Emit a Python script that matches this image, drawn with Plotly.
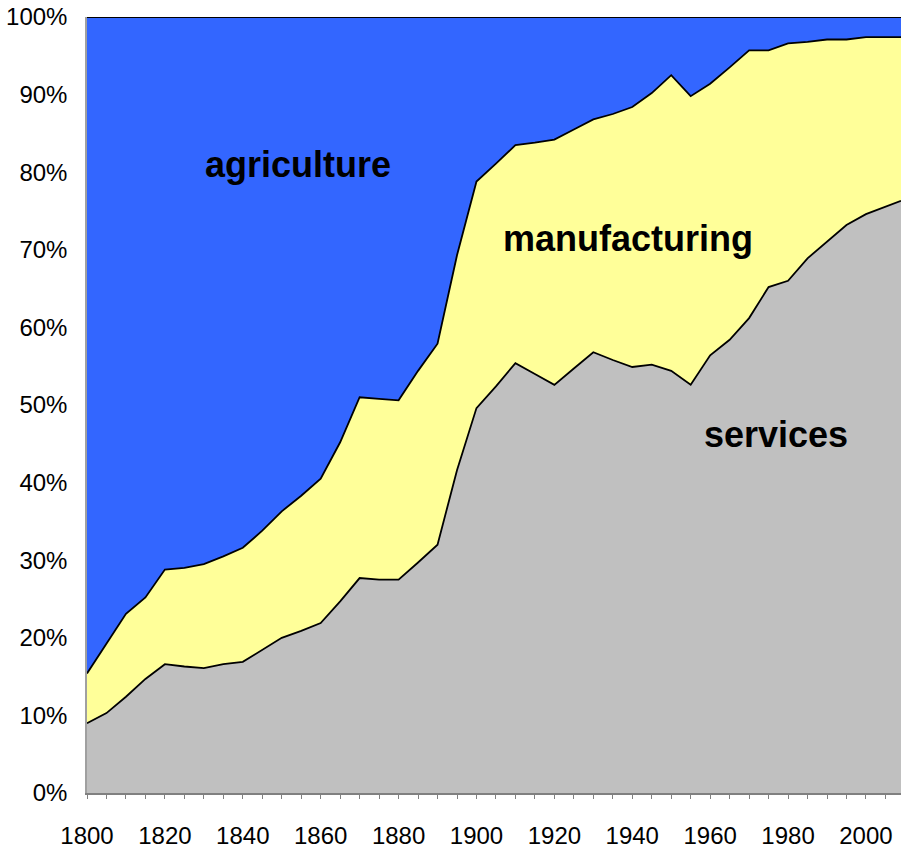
import plotly.graph_objects as go

# shares of employment, percent
years = list(range(1800, 2010, 5)) + [2009]

services = [9.0, 10.3, 12.4, 14.7, 16.6, 16.3, 16.1, 16.6, 16.9, 18.4,
            20.0, 20.9, 21.9, 24.7, 27.7, 27.5, 27.5, 29.7, 32.0, 41.6,
            49.6, 52.4, 55.4, 54.0, 52.6, 54.7, 56.8, 55.8, 54.9, 55.2,
            54.4, 52.6, 56.4, 58.4, 61.2, 65.2, 66.0, 68.9, 71.0, 73.2,
            74.6, 75.6, 76.3]

manufacturing = [6.4, 8.9, 10.7, 10.5, 12.2, 12.7, 13.4, 13.9, 14.7, 15.4,
                 16.3, 17.4, 18.6, 20.5, 23.3, 23.3, 23.1, 24.7, 25.9, 27.7,
                 29.2, 28.7, 28.1, 29.8, 31.6, 30.8, 30.0, 31.7, 33.5, 35.0,
                 38.1, 37.2, 35.0, 35.1, 34.5, 30.5, 30.6, 27.9, 26.1, 23.9,
                 22.8, 21.8, 21.1]

agriculture = [84.6, 80.8, 76.9, 74.8, 71.2, 71.0, 70.5, 69.5, 68.4, 66.2,
               63.7, 61.7, 59.5, 54.8, 49.0, 49.2, 49.4, 45.6, 42.1, 30.7,
               21.2, 18.9, 16.5, 16.2, 15.8, 14.5, 13.2, 12.5, 11.6, 9.8,
               7.5, 10.2, 8.6, 6.5, 4.3, 4.3, 3.4, 3.2, 2.9, 2.9,
               2.6, 2.6, 2.6]

series = [
    ("services", services, "#C0C0C0"),
    ("manufacturing", manufacturing, "#FFFF99"),
    ("agriculture", agriculture, "#3366FF"),
]

fig = go.Figure()
for name, vals, color in series:
    fig.add_trace(go.Scatter(
        x=years, y=vals, name=name, mode="lines", stackgroup="one",
        line=dict(color="black", width=1.8), fillcolor=color,
    ))

label_font = dict(family="Liberation Sans, Arial, sans-serif", size=36, color="black")
labels = [("<b>agriculture</b>", 1854.2, 81.0),
          ("<b>manufacturing</b>", 1938.9, 71.4),
          ("<b>services</b>", 1976.8, 46.2)]
for text, x, y in labels:
    fig.add_annotation(x=x, y=y, text=text, showarrow=False, font=label_font)

tick_font = dict(family="Liberation Sans, Arial, sans-serif", size=24, color="black")

fig.update_layout(
    width=901, height=848,
    margin=dict(l=87, r=0, t=17, b=55),
    paper_bgcolor="white", plot_bgcolor="white",
    showlegend=False,
)
fig.update_xaxes(
    range=[1800, 2009], tickmode="linear", tick0=1800, dtick=20,
    showgrid=False, zeroline=False, automargin=False,
    showline=True, linecolor="#808080", linewidth=1.5,
    ticks="outside", ticklen=4, tickcolor="#808080",
    minor=dict(dtick=5, ticks="outside", ticklen=4, tickcolor="#808080"),
    tickfont=tick_font, ticklabelstandoff=16, ticklabeloverflow="allow",
)
fig.update_yaxes(
    range=[0, 100], tickmode="linear", tick0=0, dtick=10, ticksuffix="%",
    showgrid=False, zeroline=False, automargin=False,
    showline=True, linecolor="#A0A0A0", linewidth=1.5,
    tickfont=tick_font, ticklabelstandoff=13, ticklabeloverflow="allow",
)

# drop the default 8px page margin so the figure fills the window
fig.write_html("out.html",
               config={"displayModeBar": False},
               post_script="document.body.style.margin='0';"
                           "document.body.style.overflow='hidden';")
